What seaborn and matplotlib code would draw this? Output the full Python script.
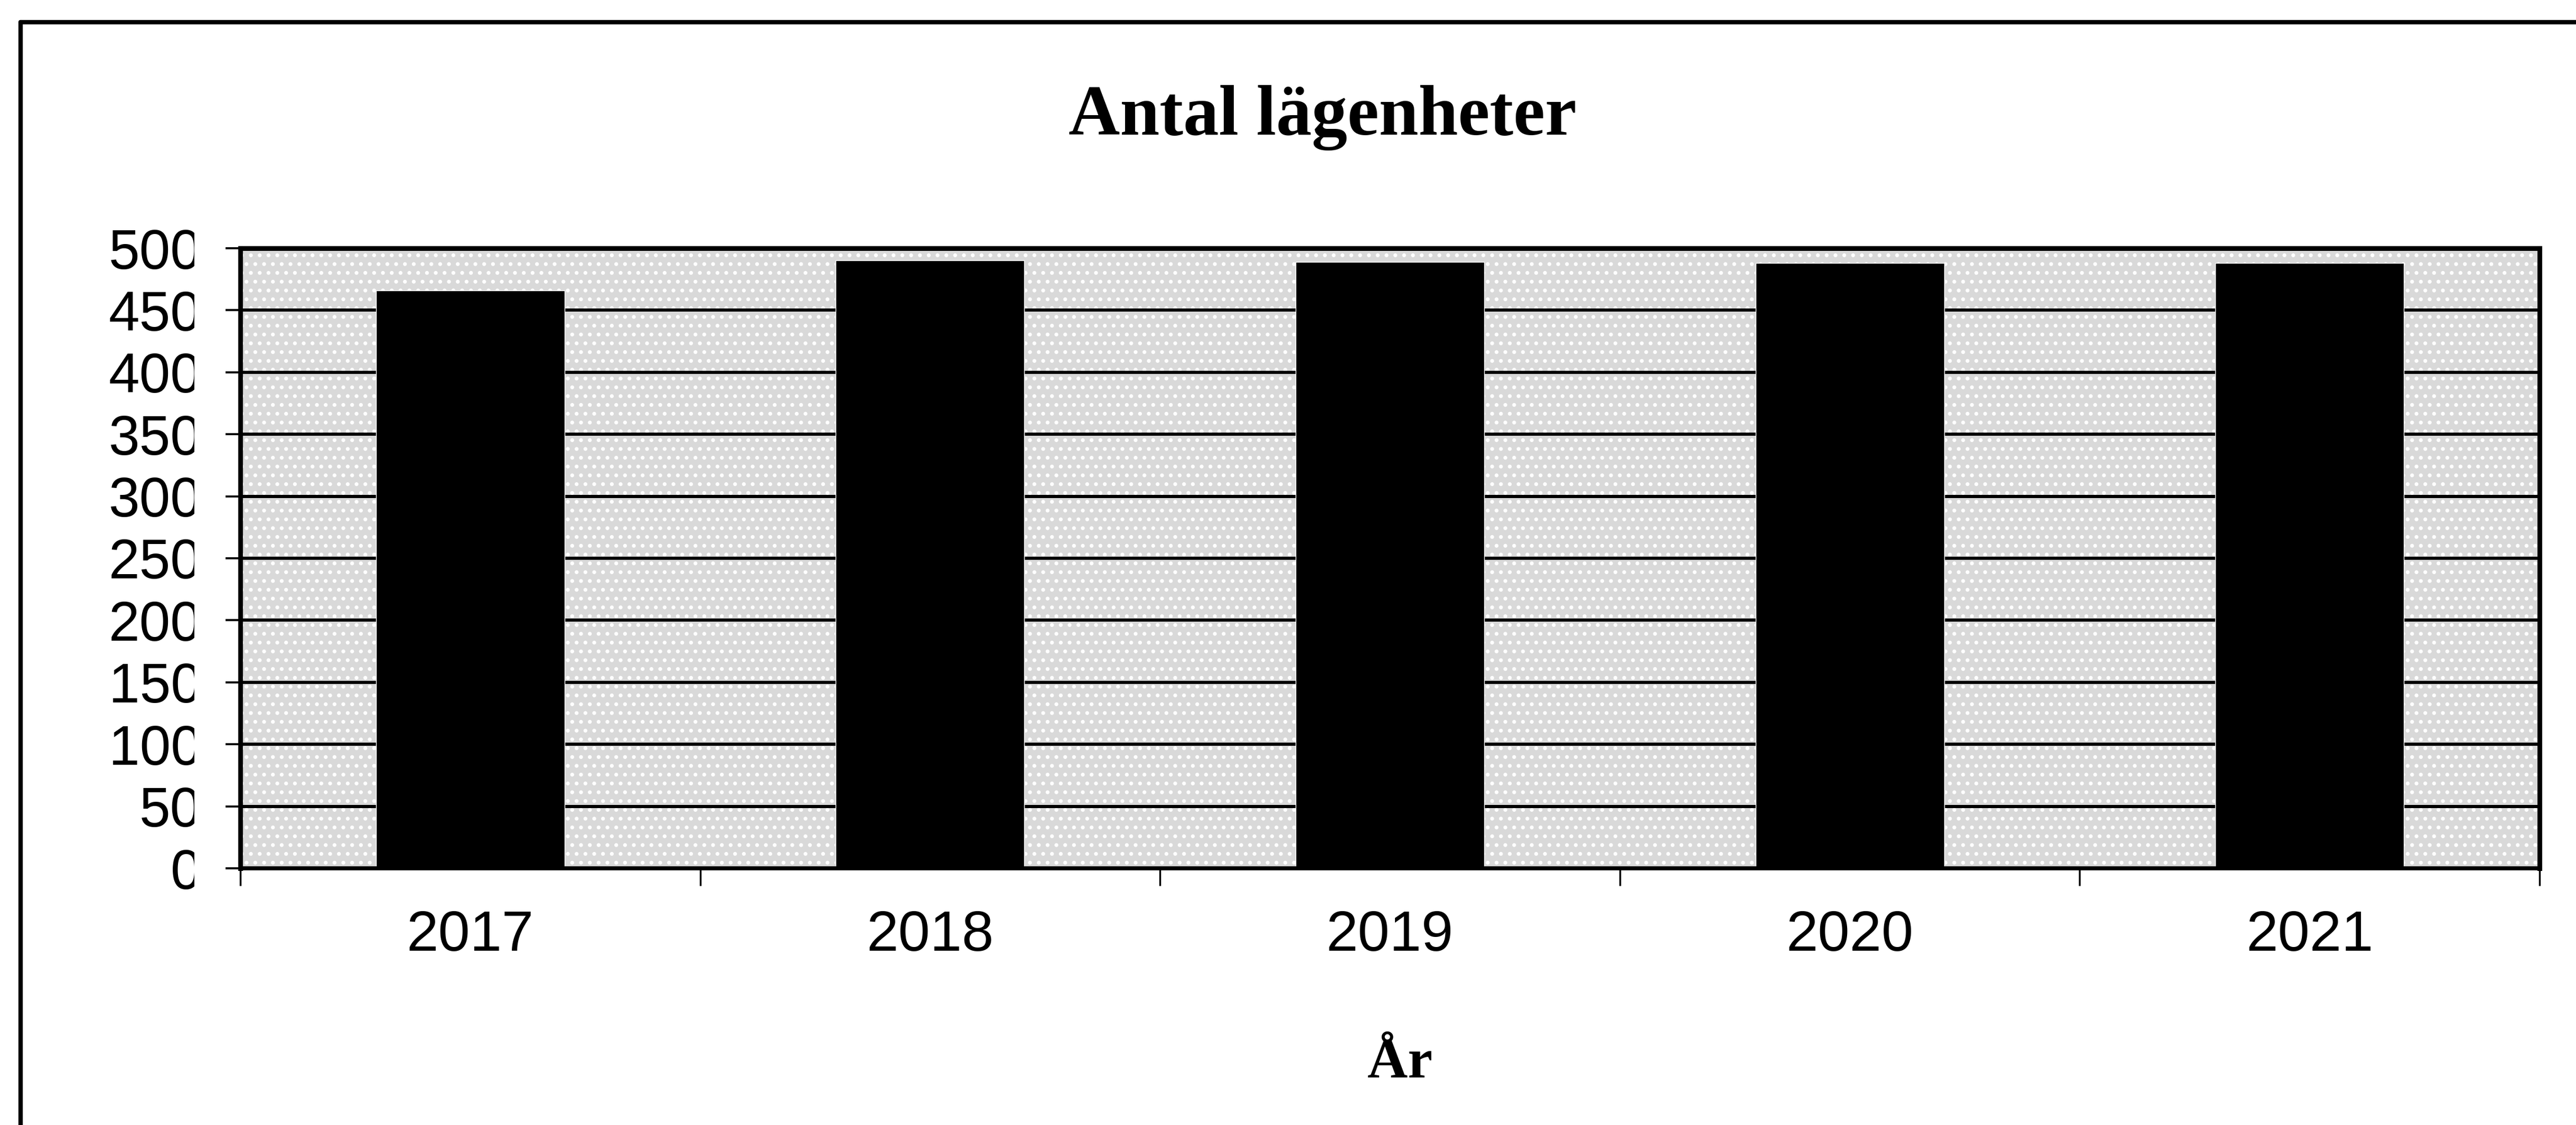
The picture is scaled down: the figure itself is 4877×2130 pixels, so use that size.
import numpy as np
import pandas as pd
import matplotlib
matplotlib.use("Agg")
import matplotlib.pyplot as plt
import seaborn as sns
from matplotlib.patches import Rectangle
from matplotlib.lines import Line2D
from matplotlib.transforms import Bbox

## data
years = ["2017", "2018", "2019", "2020", "2021"]
counts = [466, 490, 489, 488, 488]
y_ticks = [0, 50, 100, 150, 200, 250, 300, 350, 400, 450, 500]
y_ticklabels = [str(v) for v in y_ticks]
title = "Antal lägenheter"
x_label = "År"

df = pd.DataFrame({"year": years, "count": counts})

sns.set_theme(style="white")
plt.rcParams["font.family"] = ["Liberation Sans", "DejaVu Sans"]
plt.rcParams["text.color"] = "black"
plt.rcParams["hatch.color"] = "black"
plt.rcParams["hatch.linewidth"] = 2.8

W, H = 4877, 2130
fig = plt.figure(figsize=(W / 100, H / 100), dpi=100, facecolor="white")
ax = fig.add_axes([455 / W, 1 - 1644 / H, (4808 - 455) / W, (1644 - 470) / H])

## stippled plot background
ax.set_facecolor("white")
ax.add_patch(Rectangle((0, 0), 1, 1, transform=ax.transAxes, facecolor="#d9d9d9",
                       hatch=".", zorder=0.1))

sns.barplot(data=df, x="year", y="count", order=years, color="black",
            saturation=1, width=0.41, ax=ax, zorder=3)

ax.set_xlim(-0.5, len(years) - 0.5)
ax.set_ylim(0, 500)
ax.set_yticks(y_ticks)
ax.set_yticklabels(y_ticklabels)

ax.set_axisbelow(True)
ax.yaxis.grid(True, color="black", linewidth=4.3, zorder=0.5)
ax.xaxis.grid(False)

for s in ax.spines.values():
    s.set_visible(True)
    s.set_color("black")
    s.set_linewidth(6.5)
    s.set_zorder(4)
ax.spines["bottom"].set_linewidth(5.5)

## Excel style: ticks between categories
ax.set_xticks(np.arange(-0.5, len(years)), minor=True)
ax.tick_params(axis="x", which="minor", direction="out", length=24, width=2.5,
               color="black", bottom=True)
ax.tick_params(axis="x", which="major", length=0, pad=56, labelsize=78,
               labelcolor="black")
ax.tick_params(axis="y", which="major", direction="out", length=20, width=2.8,
               color="black", left=True, pad=33, labelsize=76, labelcolor="black")

ax.set_xlabel("")
ax.set_ylabel("")

## the y labels are cut off on the right in the original
clip = Bbox.from_extents(0, 0, 368, H)
for t in ax.yaxis.get_major_ticks():
    t.label1.set_clip_box(clip)
    t.label1.set_clip_on(True)

fig.text(2504 / W, 1 - 255 / H, title, ha="center", va="baseline", color="black",
         fontsize=97, fontweight="bold", family=["Liberation Serif", "DejaVu Serif"])
fig.text(2650 / W, 1 - 2040 / H, x_label, ha="center", va="baseline", color="black",
         fontsize=76, fontweight="bold", family=["Liberation Serif", "DejaVu Serif"])

## outer chart frame (left and top edges visible)
fx = 39 / W
fy = 1 - 42 / H
fig.add_artist(Line2D([fx, fx], [0, fy], transform=fig.transFigure, color="black", lw=6))
fig.add_artist(Line2D([fx, 1], [fy, fy], transform=fig.transFigure, color="black", lw=6))

fig.savefig("out.png", dpi=100, facecolor="white")
